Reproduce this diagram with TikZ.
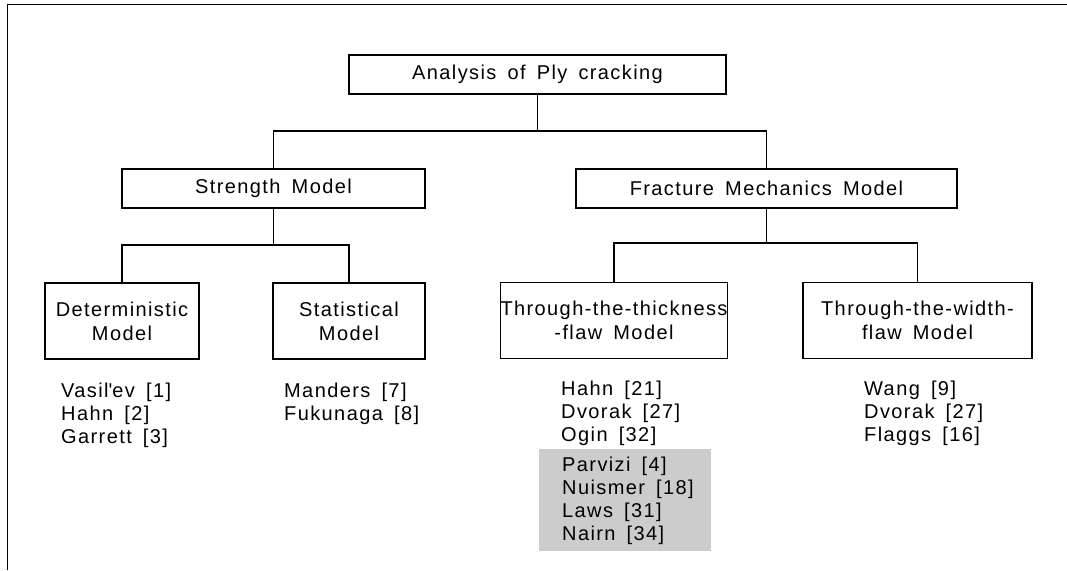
\documentclass[tikz,border=0pt]{standalone}
\usepackage{fontspec}
\setmainfont{Liberation Sans}[LetterSpace=7,WordSpace=1.6]
\usetikzlibrary{calc}
\begin{document}
\begin{tikzpicture}[x=1pt,y=-1pt,
  txt/.style={font=\fontsize{20}{24}\selectfont},
  box/.style={draw,line width=1.2pt,minimum height=39pt,inner sep=0pt,txt},
  tbox/.style={box,minimum height=76pt,align=center},
  ref/.style={anchor=base west,inner sep=0pt,txt},
  conn/.style={line width=1.2pt},
  frame/.style={line width=1pt},
  shade/.style={fill=black!20,draw=none,inner sep=0pt}]
\path[use as bounding box] (0,0) rectangle (1067,570);
\draw[frame] (7,570) -- (7,4) -- (1067,4);

\node[box,minimum width=377pt] (top) at (537.5,74.5) {Analysis of Ply cracking};
\node[box,minimum width=303pt] (strength) at (273.5,188.5) {Strength Model};
\node[box,minimum width=381pt] (fracture) at (766.5,188.5) {Fracture Mechanics Model};
\node[tbox,minimum width=154pt] (det) at (122,321) {Deterministic\\Model};
\node[tbox,minimum width=152pt] (stat) at (349,321) {Statistical\\Model};
\node[tbox,minimum width=224pt] (thick) at (614,320.5) {Through-the-thickness\\-flaw Model};
\node[tbox,minimum width=229pt] (width) at (917.5,320.5) {Through-the-width-\\flaw Model};

\coordinate (b1) at (537.5,131);
\coordinate (b2) at (273.5,245);
\coordinate (b3) at (766.5,243);
\draw[conn] (top.south) -- (top.south |- b1);
\draw[conn] (strength.north) |- (b1) -| (fracture.north);
\draw[conn] (strength.south) -- (strength.south |- b2);
\draw[conn] (det.north) |- (b2) -| (stat.north);
\draw[conn] (fracture.south) -- (fracture.south |- b3);
\draw[conn] (thick.north) |- (b3) -| (width.north);

\node[ref] (d1) at (61,397) {Vasil\textquotesingle ev [1]};
\node[ref] (d2) at (61,420) {Hahn [2]};
\node[ref] (d3) at (61,443) {Garrett [3]};

\node[ref] (s1) at (284,397) {Manders [7]};
\node[ref] (s2) at (284,420) {Fukunaga [8]};

\node[ref] (t1) at (561,395) {Hahn [21]};
\node[ref] (t2) at (561,418) {Dvorak [27]};
\node[ref] (t3) at (561,441) {Ogin [32]};

\node[shade,minimum width=172pt,minimum height=102pt] (gray) at (625,500) {};
\node[ref] (g1) at (562,471) {Parvizi [4]};
\node[ref] (g2) at (562,494) {Nuismer [18]};
\node[ref] (g3) at (562,517) {Laws [31]};
\node[ref] (g4) at (562,540) {Nairn [34]};

\node[ref] (w1) at (864,395) {Wang [9]};
\node[ref] (w2) at (864,418) {Dvorak [27]};
\node[ref] (w3) at (864,441) {Flaggs [16]};
\end{tikzpicture}
\end{document}
